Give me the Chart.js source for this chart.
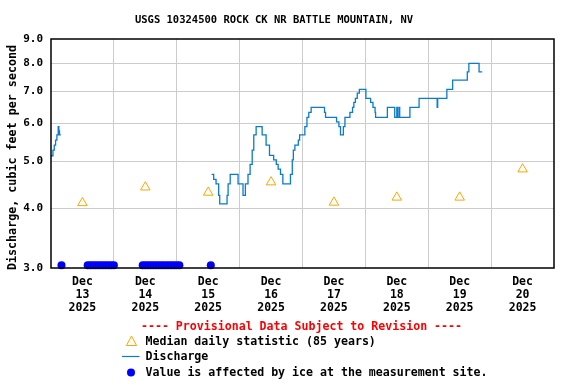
<!DOCTYPE html>
<html>
<head>
<meta charset="utf-8">
<script src="https://cdn.jsdelivr.net/npm/chart.js@4/dist/chart.umd.min.js"></script>
<style>
    html, body { margin: 0; padding: 0; background: #fff; }
    #chart { display: block; }
</style>
</head>
<body>
<canvas id="chart" width="576" height="384"></canvas>
<script>
(function () {
    "use strict";

    // Data (x in hours from Dec 13 2025 00:00)
    const dayLabels = ["13", "14", "15", "16", "17", "18", "19", "20"];
    const yearLabel = "2025";
    const yTicks = [3, 4, 5, 6, 7, 8, 9];

    const medianValues = [4.10, 4.42, 4.31, 4.53, 4.11, 4.21, 4.21, 4.82];

    const dischargeHours = [
        0, 0.75, 1.25, 1.75, 2.25, 2.75, 3.0, 3.25, 3.75,
        30,
        61.3, 62.1, 63.0, 64.0, 64.4, 67.2, 67.6, 68.4, 71.4, 73.3,
        74.2, 75.2, 76.0, 76.8, 77.4, 78.3, 80.6, 82.1, 83.4, 85.0,
        86.0, 86.7, 87.6, 88.5, 91.4, 92.1, 92.5, 93.1, 94.4, 94.9,
        96.9, 97.7, 98.4, 99.3, 104.4, 104.8, 109.0, 109.9, 110.5, 111.6,
        112.2, 114.1, 115.1, 115.6, 116.2, 116.9, 117.7, 120.2, 122.0, 122.9,
        123.7, 123.9, 128.4, 131.2, 132.0, 132.2, 132.8, 133.1, 137.0, 140.5,
        147.4, 147.6, 151.1, 153.3, 158.9, 159.5, 163.4, 164.6
    ];
    const dischargeValues = [
        5.14, 5.28, 5.41, 5.54, 5.68, 5.91, 5.79, 5.68, 5.68,
        null,
        4.70, 4.59, 4.49, 4.25, 4.08, 4.25, 4.49, 4.70, 4.49, 4.25,
        4.49, 4.70, 4.93, 5.28, 5.68, 5.91, 5.68, 5.41, 5.15, 5.04,
        4.93, 4.82, 4.70, 4.49, 4.70, 5.04, 5.28, 5.41, 5.54, 5.68,
        5.91, 6.18, 6.33, 6.48, 6.33, 6.18, 6.05, 5.91, 5.68, 5.91,
        6.18, 6.33, 6.48, 6.64, 6.77, 6.94, 7.07, 6.77, 6.64, 6.48,
        6.33, 6.18, 6.48, 6.18, 6.48, 6.18, 6.48, 6.18, 6.48, 6.77,
        6.48, 6.77, 7.07, 7.39, 7.69, 8.01, 7.69, 7.69
    ];

    const iceHours = [
        4,
        14, 15, 16, 17, 18, 19, 20, 21, 22, 23, 24,
        35, 36, 37, 38, 39, 40, 41, 42, 43, 44, 45, 46, 47, 48, 49,
        61
    ];
    const iceValue = 3.04;

    const FONT = '"DejaVu Sans Mono", "Liberation Mono", monospace';
    const LINE_COLOR = "#0a7cc8";
    const GRID_COLOR = "#cccccc";

    const medianData = medianValues.map((v, i) => ({ x: 12 + 24 * i, y: v }));
    const dischargeData = dischargeHours.map((h, i) => ({ x: h, y: dischargeValues[i] }));
    const iceData = iceHours.map((h) => ({ x: h, y: iceValue }));

    // Title, axis title, frame and legend
    const decorations = {
        id: "decorations",
        afterDraw(chart) {
            const ctx = chart.ctx;
            const a = chart.chartArea;
            ctx.save();

            ctx.strokeStyle = "#000";
            ctx.lineWidth = 1.5;
            ctx.strokeRect(a.left, a.top, a.right - a.left, a.bottom - a.top);

            ctx.fillStyle = "#000";
            ctx.font = "bold 10.5px " + FONT;
            ctx.textAlign = "center";
            ctx.textBaseline = "middle";
            ctx.fillText("USGS 10324500 ROCK CK NR BATTLE MOUNTAIN, NV", 274, 20);

            // y axis title
            ctx.save();
            ctx.translate(13, 157.5);
            ctx.rotate(-Math.PI / 2);
            ctx.font = "bold 11.7px " + FONT;
            ctx.fillText("Discharge, cubic feet per second", 0, 0);
            ctx.restore();

            ctx.font = "bold 11.6px " + FONT;
            ctx.fillStyle = "#ff0000";
            ctx.fillText("---- Provisional Data Subject to Revision ----", 301.5, 327);

            ctx.textAlign = "left";
            ctx.fillStyle = "#000";
            ctx.fillText("Median daily statistic (85 years)", 145.5, 341.5);
            ctx.fillText("Discharge", 145.5, 357);
            ctx.fillText("Value is affected by ice at the measurement site.", 145.5, 372.5);

            // triangle icon
            ctx.strokeStyle = "#ffa500";
            ctx.lineWidth = 1;
            ctx.beginPath();
            ctx.moveTo(131.5, 336);
            ctx.lineTo(136.5, 345.5);
            ctx.lineTo(126.5, 345.5);
            ctx.closePath();
            ctx.stroke();

            // line icon
            ctx.strokeStyle = LINE_COLOR;
            ctx.lineWidth = 1.2;
            ctx.beginPath();
            ctx.moveTo(122, 356.5);
            ctx.lineTo(139.5, 356.5);
            ctx.stroke();

            // dot icon
            ctx.fillStyle = "#0000ff";
            ctx.beginPath();
            ctx.arc(131, 372.5, 4, 0, Math.PI * 2);
            ctx.fill();

            ctx.restore();
        },
    };

    const ctx = document.getElementById("chart").getContext("2d");
    new Chart(ctx, {
        type: "line",
        data: {
            datasets: [
                {
                    label: "Discharge",
                    data: dischargeData,
                    borderColor: LINE_COLOR,
                    borderWidth: 1.3,
                    backgroundColor: "transparent",
                    pointRadius: 0,
                    stepped: "before",
                    spanGaps: false,
                    order: 2,
                },
                {
                    label: "Median daily statistic (85 years)",
                    data: medianData,
                    showLine: false,
                    pointStyle: "triangle",
                    pointRadius: 5.5,
                    borderColor: "#ffa500",
                    backgroundColor: "rgba(0,0,0,0)",
                    borderWidth: 1,
                    order: 1,
                },
                {
                    label: "Value is affected by ice at the measurement site.",
                    data: iceData,
                    showLine: false,
                    pointStyle: "circle",
                    pointRadius: 4,
                    borderWidth: 0,
                    backgroundColor: "#0000ff",
                    borderColor: "#0000ff",
                    clip: false,
                    order: 0,
                },
            ],
        },
        options: {
            responsive: false,
            animation: false,
            devicePixelRatio: 1,
            layout: {
                padding: { top: 39, right: 22, left: 0, bottom: 0 },
            },
            plugins: {
                legend: { display: false },
                tooltip: { enabled: false },
                title: { display: false },
            },
            scales: {
                x: {
                    type: "linear",
                    min: 0,
                    max: 192,
                    afterFit: (scale) => {
                        scale.height = 116;
                    },
                    ticks: {
                        stepSize: 12,
                        autoSkip: false,
                        maxRotation: 0,
                        padding: 8,
                        color: "#000",
                        font: { family: FONT, size: 11.5, weight: "bold", lineHeight: 1.13 },
                        callback: (v) => {
                            if (v % 24 !== 12) return "";
                            return ["Dec", dayLabels[Math.floor(v / 24)], yearLabel];
                        },
                    },
                    grid: {
                        drawTicks: false,
                        color: (c) => {
                            const v = c.tick ? c.tick.value : 0;
                            return v % 24 === 0 && v > 0 && v < 192 ? GRID_COLOR : "rgba(0,0,0,0)";
                        },
                    },
                    border: { display: false },
                },
                y: {
                    type: "logarithmic",
                    min: 3,
                    max: 9,
                    afterFit: (scale) => {
                        scale.width = 51;
                    },
                    afterBuildTicks: (scale) => {
                        scale.ticks = yTicks.map((v) => ({ value: v }));
                    },
                    ticks: {
                        padding: 8,
                        color: "#000",
                        font: { family: FONT, size: 11, weight: "bold" },
                        callback: (v) => Number(v).toFixed(1),
                    },
                    grid: {
                        drawTicks: false,
                        color: (c) => {
                            const v = c.tick ? c.tick.value : 3;
                            return v > 3 && v < 9 ? GRID_COLOR : "rgba(0,0,0,0)";
                        },
                    },
                    border: { display: false },
                },
            },
        },
        plugins: [decorations],
    });
})();
</script>
</body>
</html>
